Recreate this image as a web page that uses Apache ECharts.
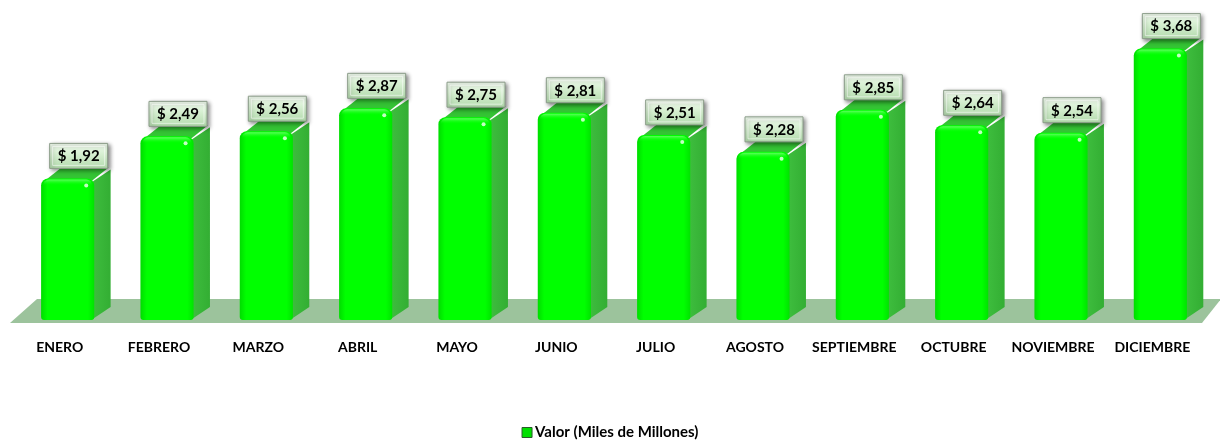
<!DOCTYPE html>
<html>
<head>
<meta charset="utf-8">
<script src="https://cdn.jsdelivr.net/npm/echarts@6/dist/echarts.min.js"></script>
<style>
html,body{margin:0;padding:0;background:#fff;}
#chart{width:1220px;height:445px;}
</style>
</head>
<body>
<div id="chart"></div>
<script>
const categories = ['ENERO','FEBRERO','MARZO','ABRIL','MAYO','JUNIO','JULIO','AGOSTO','SEPTIEMBRE','OCTUBRE','NOVIEMBRE','DICIEMBRE'];
const values = [1.92, 2.49, 2.56, 2.87, 2.75, 2.81, 2.51, 2.28, 2.85, 2.64, 2.54, 3.68];
const seriesName = 'Valor (Miles de Millones)';

const FONT = 'Lato, "Open Sans", sans-serif';

function fmt(v) {
  return '$ ' + v.toFixed(2).replace('.', ',');
}

function renderBar(params, api) {
  const idx = api.value(0), val = api.value(1);
  const top = api.coord([idx, val]);
  const base = api.coord([idx, 0]);
  const band = api.size([1, 0])[0];
  const w = band * 0.535;
  const dx = band * 0.165, dy = 13;
  const x0 = top[0] - w / 2, x1 = x0 + w;
  const yT = top[1], yB = base[1];
  const cx = top[0] + 11;
  return {
    type: 'group',
    children: [
      {
        type: 'polygon',
        shape: { points: [[x1 - 3, yT + 4], [x1 + dx, yT - dy + 4], [x1 + dx, yB - dy], [x1 - 3, yB]] },
        style: { fill: new echarts.graphic.LinearGradient(0, 0, 1, 0, [
          { offset: 0, color: '#3FBF3F' }, { offset: 1, color: '#33AE33' }]) }
      },
      {
        type: 'polygon',
        shape: { points: [[x0 + 4, yT + 2], [x0 + 4 + dx, yT - dy + 2], [x1 + dx - 2, yT - dy + 2], [x1 - 2, yT + 2]] },
        style: { fill: '#34C434' }
      },
      {
        type: 'rect',
        shape: { x: x0, y: yT, width: w, height: yB - yT, r: [7, 7, 3, 3] },
        style: { fill: new echarts.graphic.LinearGradient(0, 0, 1, 0, [
          { offset: 0, color: '#00DC00' }, { offset: 0.12, color: '#00FF00' },
          { offset: 0.88, color: '#00FF00' }, { offset: 1, color: '#00E400' }]) }
      },
      {
        type: 'rect',
        shape: { x: x0 + 2, y: yT + 1, width: w - 4, height: 6, r: [6, 6, 0, 0] },
        style: { fill: new echarts.graphic.LinearGradient(0, 0, 0, 1, [
          { offset: 0, color: 'rgba(120,255,120,0.8)' }, { offset: 1, color: 'rgba(0,255,0,0)' }]) }
      },
      {
        type: 'circle',
        shape: { cx: x1 - 8, cy: yT + 7, r: 2 },
        style: { fill: 'rgba(230,255,230,0.85)' }
      },
      {
        type: 'rect',
        shape: { x: cx - 29, y: yT - 35, width: 58, height: 25 },
        style: {
          fill: new echarts.graphic.LinearGradient(0, 0, 0, 1, [
            { offset: 0, color: '#F2FBF0' }, { offset: 0.4, color: '#D8F0D3' }, { offset: 1, color: '#B2DAAC' }]),
          stroke: '#8A9C88', lineWidth: 1,
          shadowBlur: 4, shadowOffsetX: 2, shadowOffsetY: 2, shadowColor: 'rgba(0,0,0,0.45)'
        }
      },
      {
        type: 'rect',
        shape: { x: cx - 26, y: yT - 32, width: 52, height: 19 },
        style: { fill: 'none', stroke: 'rgba(255,255,255,0.55)', lineWidth: 1 }
      },
      {
        type: 'text',
        style: {
          text: fmt(val), x: cx, y: yT - 22, align: 'center', verticalAlign: 'middle',
          fill: '#000', font: 'bold 15px ' + FONT
        }
      }
    ]
  };
}

function renderFloor(params, api) {
  const left = api.coord([0, 0]);
  const right = api.coord([categories.length - 1, 0]);
  const band = api.size([1, 0])[0];
  const yF = left[1] + 3, yBk = left[1] - 21;
  const fl = left[0] - band / 2 - 8, fr = right[0] + band / 2 - 8;
  return {
    type: 'polygon',
    shape: { points: [[fl, yF], [fl + 27, yBk], [fr + 19, yBk], [fr, yF]] },
    style: { fill: '#9CC39C' }
  };
}

const chart = echarts.init(document.getElementById('chart'), null, { renderer: 'canvas' });
chart.setOption({
  animation: false,
  backgroundColor: '#fff',
  grid: { left: 18, right: 10, top: 25, bottom: 125 },
  xAxis: {
    type: 'category',
    data: categories,
    axisLine: { show: false },
    axisTick: { show: false },
    axisLabel: {
      margin: 20, color: '#000', fontWeight: 'bold', fontSize: 14, fontFamily: FONT,
      padding: [0, 16, 0, 0], interval: 0
    }
  },
  yAxis: { type: 'value', min: 0, max: 4, show: false, splitLine: { show: false } },
  legend: {
    data: [seriesName],
    bottom: 0,
    left: 'center',
    icon: 'rect',
    itemWidth: 10, itemHeight: 10, itemGap: 4,
    itemStyle: { color: '#00E000', borderColor: '#2A5A2A', borderWidth: 1 },
    textStyle: { color: '#000', fontWeight: 'bold', fontSize: 15, fontFamily: FONT, padding: [0, 0, 0, -2] }
  },
  series: [
    {
      type: 'custom',
      name: 'floor',
      z: 1,
      renderItem: renderFloor,
      data: [[0, 0]],
      silent: true
    },
    {
      type: 'custom',
      name: seriesName,
      z: 2,
      itemStyle: { color: '#00E000' },
      renderItem: renderBar,
      encode: { x: 0, y: 1 },
      data: values.map((v, i) => [i, v])
    }
  ]
});
</script>
</body>
</html>
